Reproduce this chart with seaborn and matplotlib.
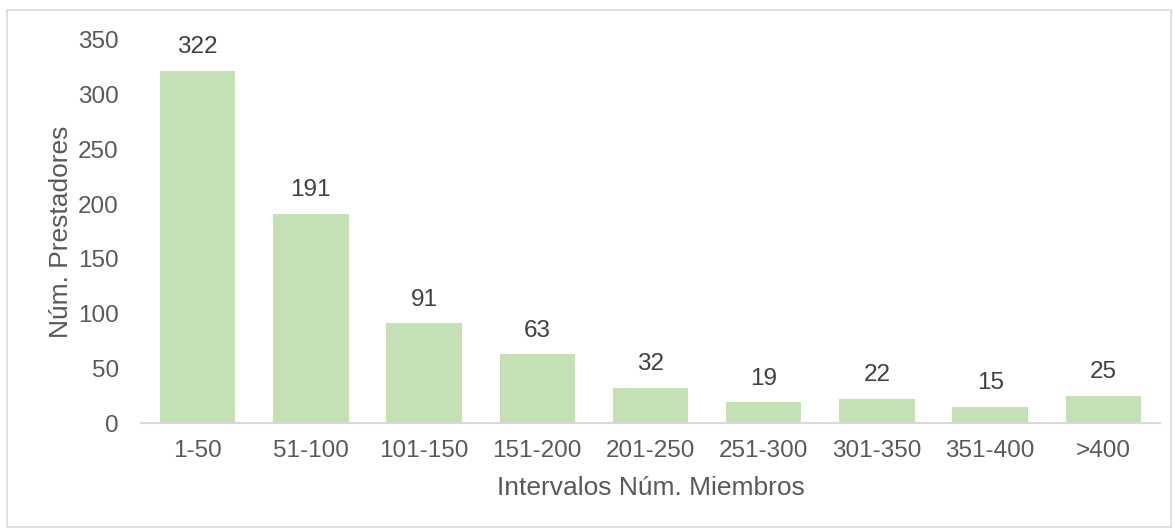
import matplotlib
matplotlib.use("Agg")
import matplotlib.pyplot as plt
import seaborn as sns
import pandas as pd
from matplotlib.patches import Rectangle

categories = ["1-50", "51-100", "101-150", "151-200", "201-250", "251-300", "301-350", "351-400", ">400"]
values = [322, 191, 91, 63, 32, 19, 22, 15, 25]
yticks = [0, 50, 100, 150, 200, 250, 300, 350]

sns.set_theme(style="white")
plt.rcParams['font.family'] = ['Liberation Sans', 'DejaVu Sans']

df = pd.DataFrame({"cat": categories, "val": values})

fig = plt.figure(figsize=(11.74, 5.29), dpi=100)
ax = fig.add_axes([141/1174, 1-423/529, (1160-141)/1174, (423-40)/529])

sns.barplot(data=df, x="cat", y="val", color="#C5E0B4", saturation=1, width=0.667,
            linewidth=0, ax=ax)

ax.set_xlim(-0.5, 8.5)
ax.set_ylim(0, 350)
ax.set_yticks(yticks)
txtc = "#595959"
ax.tick_params(axis='both', colors=txtc, labelsize=17.5, length=0)
ax.tick_params(axis='x', pad=12)
ax.tick_params(axis='y', pad=16)
for s in ["top", "right", "left"]:
    ax.spines[s].set_visible(False)
ax.spines["bottom"].set_color("#D9D9D9")
ax.spines["bottom"].set_linewidth(1.5)

for i, v in enumerate(values):
    ax.annotate(str(v), (i, v), xytext=(0, 9), textcoords="offset points",
                ha="center", va="bottom", fontsize=17.5, color="#404040", clip_on=False)

ax.set_xlabel("Intervalos Núm. Miembros", fontsize=19, color=txtc, labelpad=10)
ax.set_ylabel("Núm. Prestadores", fontsize=19, color=txtc, labelpad=3.5)

fig.patches.append(Rectangle((7/1174, 2/529), (1171-7)/1174, (519-2)/529, transform=fig.transFigure,
                             fill=False, edgecolor="#D9D9D9", linewidth=1.2))

fig.savefig("out.png", dpi=100)
